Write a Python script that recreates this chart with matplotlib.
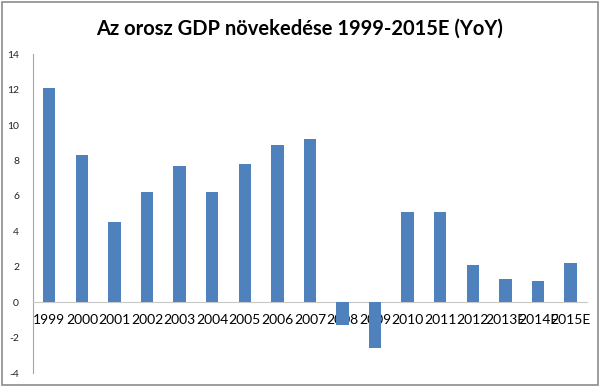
import matplotlib.pyplot as plt
from matplotlib.patches import Rectangle

years = ["1999", "2000", "2001", "2002", "2003", "2004", "2005", "2006", "2007",
         "2008", "2009", "2010", "2011", "2012", "2013E", "2014E", "2015E"]
growth = [12.1, 8.3, 4.5, 6.2, 7.7, 6.2, 7.8, 8.9, 9.2,
          -1.3, -2.6, 5.1, 5.1, 2.1, 1.3, 1.2, 2.2]
yticks = [-4, -2, 0, 2, 4, 6, 8, 10, 12, 14]

plt.rcParams['font.family'] = ['Lato', 'DejaVu Sans']

fig = plt.figure(figsize=(6, 3.87), dpi=100)
fig.patches.append(Rectangle((0.004, 0.004), 0.992, 0.99, transform=fig.transFigure,
                             fill=False, edgecolor="#8c8c8c", linewidth=1.2))
ax = fig.add_axes([0.055, 0.036, 0.923, 0.824])

x = list(range(len(years)))
ax.bar(x, growth, width=0.38, color="#4f81bd", zorder=3)

ax.set_xlim(-0.5, len(years) - 0.5)
ax.set_ylim(-4, 14)
ax.set_yticks(yticks)
ax.set_yticklabels([str(v) for v in yticks], fontsize=7.5, color="#222222")
ax.set_xticks(x)
ax.set_xticklabels(years, fontsize=7.3, color="#222222")

ax.spines['top'].set_visible(False)
ax.spines['right'].set_visible(False)
ax.spines['left'].set_color("#a6a6a6")
ax.spines['bottom'].set_position(('data', 0))
ax.spines['bottom'].set_color("#c8c8c8")
ax.tick_params(axis='both', length=0)
ax.tick_params(axis='y', pad=10)
ax.tick_params(axis='x', pad=8.5)

fig.text(0.5, 0.927, "Az orosz GDP növekedése 1999-2015E (YoY)", ha="center", va="center",
         fontsize=14.5, fontweight="bold", color="#000000")

fig.savefig("out.png", dpi=100)
